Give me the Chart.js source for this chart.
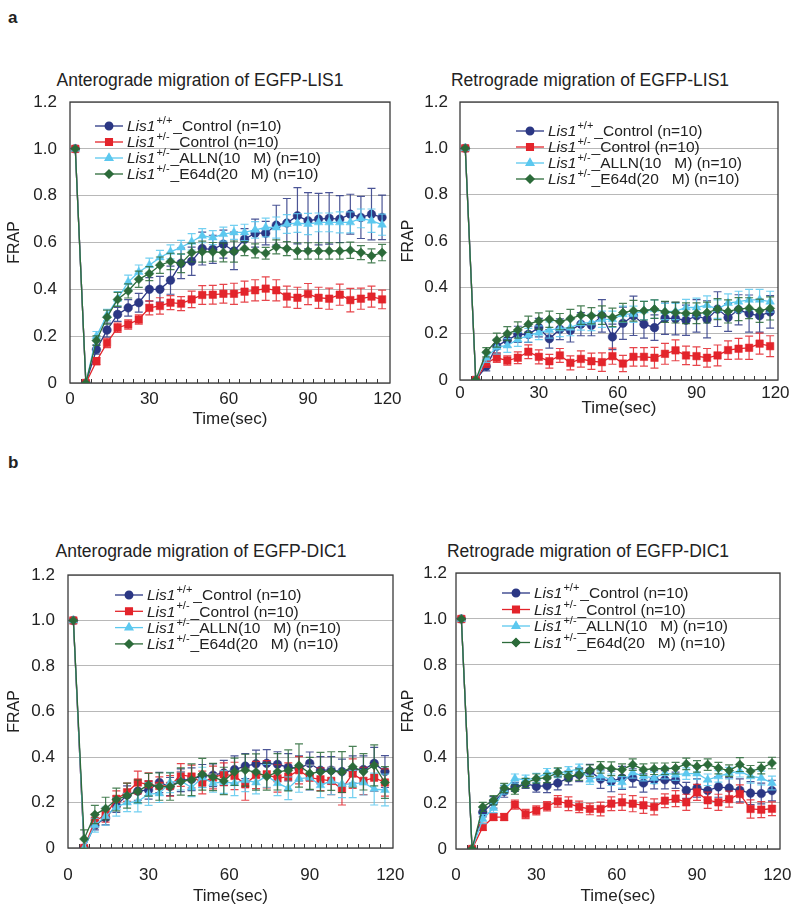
<!DOCTYPE html>
<html>
<head>
  <title>FRAP</title>
  <script src="https://cdn.jsdelivr.net/npm/chart.js@4.4.0/dist/chart.umd.min.js"></script>
  <style>
body {
  margin: 0;
  width: 793px;
  height: 921px;
  background: #fff;
  position: relative;
  font-family: "Liberation Sans", Arial, sans-serif;
}
canvas { position: absolute; }
.ttl {
  position: absolute;
  width: 400px;
  text-align: center;
  font-size: 17.5px;
  line-height: 20px;
  color: #222;
}
.lab {
  position: absolute;
  font-size: 17px;
  font-weight: bold;
  color: #222;
}
  </style>
</head>
<body>
  <div class="lab" style="left:8px;top:8px;">a</div>
  <div class="lab" style="left:8px;top:453px;">b</div>
  <div class="ttl" style="left:0px;top:70px;">Anterograde migration of EGFP-LIS1</div>
  <div class="ttl" style="left:390px;top:70px;">Retrograde migration of EGFP-LIS1</div>
  <div class="ttl" style="left:1px;top:541px;">Anterograde migration of EGFP-DIC1</div>
  <div class="ttl" style="left:388px;top:541px;">Retrograde migration of EGFP-DIC1</div>

  <canvas id="antLis" width="405" height="340" style="left:0px;top:90px;"></canvas>
  <canvas id="retLis" width="401" height="329" style="left:392px;top:90px;"></canvas>
  <canvas id="antDic" width="405" height="344" style="left:0px;top:563px;"></canvas>
  <canvas id="retDic" width="401" height="346" style="left:392px;top:561px;"></canvas>

  <script>
// time points (sec)
var times = [2,6,10,14,18,22,26,30,34,38,42,46,50,54,58,62,66,70,74,78,82,86,90,94,98,102,106,110,114,118];
var xTickLabels = [0,30,60,90,120];
var yTickLabels = [0,0.2,0.4,0.6,0.8,1.0,1.2];

// Anterograde EGFP-LIS1
var antLisWt   = [1.0,0,0.143,0.226,0.293,0.321,0.343,0.40,0.40,0.439,0.511,0.52,0.574,0.571,0.593,0.564,0.614,0.64,0.64,0.674,0.683,0.714,0.693,0.70,0.703,0.70,0.721,0.707,0.721,0.707];
var antLisCtl  = [1.0,0,0.093,0.171,0.236,0.25,0.271,0.321,0.329,0.343,0.339,0.357,0.376,0.377,0.381,0.381,0.39,0.396,0.403,0.396,0.369,0.364,0.38,0.364,0.36,0.377,0.354,0.36,0.369,0.357];
var antLisAlln = [1.0,0,0.2,0.29,0.36,0.431,0.474,0.503,0.536,0.56,0.579,0.603,0.629,0.621,0.636,0.643,0.643,0.654,0.664,0.664,0.679,0.683,0.679,0.686,0.686,0.686,0.686,0.703,0.693,0.676];
var antLisE64  = [1.0,0,0.181,0.281,0.357,0.393,0.443,0.467,0.503,0.519,0.511,0.557,0.561,0.56,0.557,0.561,0.574,0.564,0.554,0.581,0.574,0.564,0.564,0.564,0.564,0.564,0.567,0.557,0.543,0.557];
var antLisWtErr   = [0,0,0.02,0.03,0.03,0.035,0.04,0.05,0.055,0.06,0.065,0.06,0.07,0.06,0.06,0.08,0.045,0.06,0.05,0.085,0.105,0.12,0.12,0.11,0.11,0.1,0.085,0.09,0.11,0.095];
var antLisCtlErr  = [0,0,0.015,0.02,0.02,0.02,0.02,0.03,0.035,0.03,0.03,0.035,0.04,0.04,0.04,0.045,0.045,0.045,0.05,0.045,0.045,0.045,0.045,0.045,0.045,0.045,0.05,0.045,0.045,0.04];
var antLisAllnErr = [0,0,0.02,0.025,0.03,0.03,0.03,0.03,0.03,0.03,0.03,0.035,0.03,0.03,0.03,0.03,0.035,0.035,0.04,0.045,0.04,0.04,0.045,0.04,0.04,0.045,0.045,0.04,0.05,0.045];
var antLisE64Err  = [0,0,0.02,0.03,0.03,0.03,0.035,0.03,0.035,0.035,0.04,0.04,0.045,0.04,0.04,0.045,0.03,0.03,0.025,0.03,0.03,0.035,0.035,0.035,0.035,0.035,0.035,0.03,0.03,0.035];

// Retrograde EGFP-LIS1
var retLisWt   = [1.0,0,0.059,0.146,0.172,0.197,0.197,0.226,0.178,0.219,0.214,0.241,0.236,0.277,0.186,0.245,0.277,0.241,0.226,0.267,0.265,0.258,0.277,0.262,0.306,0.27,0.303,0.287,0.277,0.294];
var retLisCtl  = [1.0,0,0.074,0.096,0.084,0.096,0.122,0.10,0.081,0.106,0.074,0.091,0.081,0.077,0.103,0.071,0.10,0.10,0.096,0.113,0.128,0.106,0.103,0.096,0.106,0.129,0.135,0.139,0.157,0.146];
var retLisAlln = [1.0,0,0.096,0.142,0.149,0.175,0.193,0.204,0.216,0.222,0.226,0.245,0.248,0.262,0.262,0.284,0.284,0.30,0.306,0.296,0.296,0.313,0.313,0.323,0.306,0.332,0.338,0.346,0.346,0.338];
var retLisE64  = [1.0,0,0.12,0.172,0.2,0.216,0.241,0.255,0.262,0.252,0.265,0.28,0.277,0.28,0.27,0.291,0.299,0.299,0.306,0.294,0.291,0.288,0.288,0.291,0.306,0.296,0.306,0.31,0.299,0.309];
var retLisWtErr   = [0,0,0.02,0.03,0.03,0.035,0.035,0.04,0.04,0.045,0.05,0.05,0.045,0.07,0.055,0.07,0.085,0.06,0.055,0.07,0.07,0.065,0.07,0.08,0.075,0.06,0.065,0.08,0.07,0.07];
var retLisCtlErr  = [0,0,0.02,0.02,0.02,0.025,0.03,0.03,0.03,0.03,0.03,0.035,0.035,0.04,0.035,0.035,0.04,0.04,0.045,0.045,0.045,0.04,0.04,0.04,0.045,0.04,0.045,0.05,0.045,0.045];
var retLisAllnErr = [0,0,0.02,0.03,0.03,0.03,0.03,0.03,0.035,0.035,0.035,0.03,0.035,0.035,0.035,0.035,0.035,0.04,0.04,0.035,0.035,0.035,0.04,0.04,0.04,0.04,0.045,0.045,0.045,0.045];
var retLisE64Err  = [0,0,0.02,0.03,0.03,0.035,0.035,0.035,0.035,0.035,0.04,0.04,0.035,0.04,0.04,0.04,0.045,0.04,0.04,0.045,0.045,0.045,0.045,0.045,0.045,0.05,0.05,0.045,0.05,0.05];

// Anterograde EGFP-DIC1
var antDicWt   = [1.0,0,0.10,0.132,0.187,0.233,0.25,0.255,0.288,0.27,0.298,0.302,0.317,0.32,0.33,0.345,0.36,0.37,0.372,0.368,0.355,0.35,0.372,0.342,0.342,0.336,0.345,0.345,0.372,0.336];
var antDicCtl  = [1.0,0,0.12,0.144,0.216,0.245,0.288,0.28,0.273,0.273,0.321,0.314,0.288,0.31,0.324,0.317,0.28,0.321,0.324,0.306,0.314,0.342,0.309,0.302,0.295,0.259,0.327,0.295,0.309,0.288];
var antDicAlln = [1.0,0,0.10,0.14,0.18,0.20,0.204,0.237,0.24,0.288,0.295,0.266,0.31,0.285,0.29,0.285,0.298,0.288,0.317,0.285,0.263,0.305,0.309,0.276,0.295,0.281,0.281,0.288,0.259,0.255];
var antDicE64  = [1.0,0.04,0.147,0.173,0.213,0.23,0.249,0.278,0.27,0.27,0.292,0.30,0.324,0.312,0.295,0.335,0.342,0.334,0.314,0.335,0.341,0.363,0.328,0.335,0.338,0.334,0.357,0.335,0.363,0.288];
var antDicWtErr   = [0,0,0.02,0.03,0.03,0.04,0.04,0.04,0.045,0.04,0.05,0.05,0.05,0.05,0.055,0.06,0.055,0.06,0.06,0.055,0.06,0.055,0.05,0.06,0.06,0.055,0.06,0.06,0.07,0.07];
var antDicCtlErr  = [0,0,0.03,0.03,0.035,0.04,0.05,0.05,0.04,0.045,0.05,0.05,0.05,0.05,0.05,0.06,0.07,0.06,0.06,0.06,0.06,0.06,0.055,0.05,0.06,0.07,0.065,0.06,0.06,0.06];
var antDicAllnErr = [0,0,0.03,0.04,0.04,0.04,0.045,0.05,0.04,0.045,0.04,0.04,0.045,0.04,0.05,0.055,0.05,0.05,0.05,0.055,0.05,0.06,0.055,0.055,0.06,0.06,0.06,0.055,0.07,0.07];
var antDicE64Err  = [0,0.04,0.04,0.05,0.05,0.055,0.05,0.05,0.06,0.06,0.06,0.07,0.07,0.06,0.06,0.06,0.07,0.08,0.06,0.08,0.09,0.095,0.07,0.085,0.085,0.09,0.09,0.08,0.09,0.07];

// Retrograde EGFP-DIC1
var retDicWt   = [1.0,0,0.16,0.203,0.25,0.27,0.284,0.272,0.275,0.287,0.309,0.323,0.338,0.304,0.294,0.309,0.309,0.287,0.301,0.301,0.299,0.255,0.265,0.254,0.27,0.265,0.255,0.243,0.241,0.254];
var retDicCtl  = [1.0,0,0.096,0.139,0.139,0.193,0.152,0.168,0.186,0.207,0.197,0.183,0.174,0.174,0.197,0.203,0.197,0.19,0.183,0.21,0.219,0.203,0.246,0.212,0.203,0.217,0.239,0.174,0.171,0.175];
var retDicAlln = [1.0,0,0.13,0.178,0.258,0.306,0.301,0.309,0.33,0.33,0.338,0.349,0.301,0.319,0.301,0.29,0.333,0.316,0.309,0.33,0.323,0.328,0.328,0.301,0.316,0.33,0.338,0.316,0.309,0.287];
var retDicE64  = [1.0,0,0.183,0.212,0.265,0.258,0.287,0.306,0.309,0.333,0.316,0.323,0.341,0.355,0.349,0.345,0.367,0.345,0.349,0.349,0.352,0.37,0.359,0.367,0.352,0.341,0.367,0.338,0.352,0.374];
var retDicWtErr   = [0,0,0.02,0.025,0.025,0.02,0.02,0.025,0.03,0.03,0.03,0.03,0.03,0.04,0.045,0.05,0.04,0.04,0.04,0.04,0.035,0.035,0.04,0.04,0.045,0.045,0.05,0.05,0.045,0.045];
var retDicCtlErr  = [0,0,0.015,0.015,0.015,0.02,0.02,0.02,0.02,0.025,0.03,0.025,0.025,0.03,0.03,0.035,0.035,0.035,0.035,0.03,0.035,0.035,0.035,0.035,0.035,0.035,0.04,0.04,0.035,0.03];
var retDicAllnErr = [0,0,0.02,0.02,0.02,0.02,0.02,0.02,0.02,0.02,0.02,0.02,0.02,0.02,0.025,0.025,0.025,0.02,0.025,0.025,0.025,0.025,0.025,0.025,0.025,0.025,0.025,0.03,0.03,0.03];
var retDicE64Err  = [0,0,0.02,0.02,0.02,0.02,0.02,0.02,0.02,0.02,0.02,0.025,0.025,0.025,0.03,0.025,0.025,0.025,0.025,0.025,0.025,0.025,0.025,0.025,0.025,0.025,0.03,0.025,0.025,0.025];

var seriesLabels = [
  {gt: '+/+', rest: '_Control (n=10)'},
  {gt: '+/-', rest: '_Control (n=10)'},
  {gt: '+/-', rest: '_ALLN(10   M) (n=10)'},
  {gt: '+/-', rest: '_E64d(20   M) (n=10)'}
];
var seriesColors = ['#2b3784', '#e3242b', '#5cc8ef', '#2c6b3a'];
var seriesStyles = ['circle', 'rect', 'triangle', 'rectRot'];
var seriesRadius = [4.3, 5.3, 5, 4.6];

var FONT = '"Liberation Sans", Arial, sans-serif';
var TXT = '#222';

// error bars under each dataset
var errorBars = {
  id: 'errorBars',
  beforeDatasetDraw: function(chart, args) {
    var ds = chart.data.datasets[args.index];
    var meta = args.meta;
    var y = chart.scales.y;
    var ctx = chart.ctx;
    ctx.save();
    ctx.strokeStyle = ds.borderColor;
    ctx.globalAlpha = 0.85;
    ctx.lineWidth = 1.2;
    meta.data.forEach(function(pt, k) {
      var e = ds.errs[k];
      if (!e) return;
      var v = ds.data[k].y;
      var top = y.getPixelForValue(v + e);
      var bot = y.getPixelForValue(v - e);
      ctx.beginPath();
      ctx.moveTo(pt.x, top); ctx.lineTo(pt.x, bot);
      ctx.moveTo(pt.x - 4, top); ctx.lineTo(pt.x + 4, top);
      ctx.moveTo(pt.x - 4, bot); ctx.lineTo(pt.x + 4, bot);
      ctx.stroke();
    });
    ctx.restore();
  }
};

// plot box + small category ticks on the bottom edge
var frame = {
  id: 'frame',
  beforeDatasetsDraw: function(chart) {
    var a = chart.chartArea, ctx = chart.ctx, x = chart.scales.x;
    ctx.save();
    ctx.strokeStyle = '#3a3a3a';
    ctx.lineWidth = 1.3;
    ctx.strokeRect(a.left, a.top, a.right - a.left, a.bottom - a.top);
    ctx.lineWidth = 1;
    ctx.beginPath();
    for (var k = 0; k < times.length - 1; k++) {
      var px = Math.round(x.getPixelForValue((times[k] + times[k + 1]) / 2)) + 0.5;
      ctx.moveTo(px, a.bottom); ctx.lineTo(px, a.bottom - 4);
    }
    ctx.stroke();
    ctx.restore();
  }
};

// legend with italic gene name and superscript genotype
var frapLegend = {
  id: 'frapLegend',
  afterDraw: function(chart, args, opts) {
    var ctx = chart.ctx;
    ctx.save();
    chart.data.datasets.forEach(function(ds, i) {
      var yy = opts.y + i * opts.dy;
      ctx.strokeStyle = ds.borderColor;
      ctx.fillStyle = ds.borderColor;
      ctx.lineWidth = 1.3;
      ctx.beginPath();
      ctx.moveTo(opts.x, yy); ctx.lineTo(opts.x + 28, yy);
      ctx.stroke();
      Chart.helpers.drawPoint(ctx, {pointStyle: ds.pointStyle, radius: ds.pointRadius - 0.5, borderWidth: 1}, opts.x + 14, yy);
      ctx.fill();
      var lbl = seriesLabels[i];
      var tx = opts.x + 32;
      ctx.fillStyle = TXT;
      ctx.textBaseline = 'middle';
      ctx.font = 'italic 15.5px ' + FONT;
      ctx.fillText('Lis1', tx, yy + 1);
      tx += ctx.measureText('Lis1').width + 1;
      ctx.font = '11px ' + FONT;
      ctx.fillText(lbl.gt, tx, yy - 5);
      tx += ctx.measureText(lbl.gt).width + 1;
      ctx.font = '15.5px ' + FONT;
      ctx.fillText(lbl.rest, tx, yy + 1);
    });
    ctx.restore();
  }
};

function makeChart(id, vals, errs, g) {
  var datasets = vals.map(function(v, i) {
    return {
      label: seriesLabels[i].rest,
      data: times.map(function(t, k) { return {x: t, y: v[k]}; }),
      errs: errs[i],
      borderColor: seriesColors[i],
      backgroundColor: seriesColors[i],
      pointBackgroundColor: seriesColors[i],
      pointBorderColor: seriesColors[i],
      pointStyle: seriesStyles[i],
      pointRadius: seriesRadius[i],
      pointBorderWidth: 0.5,
      borderWidth: 1.3,
      tension: 0,
      order: 3 - i
    };
  });
  return new Chart(document.getElementById(id), {
    type: 'line',
    data: { datasets: datasets },
    options: {
      responsive: false,
      animation: false,
      layout: { padding: { top: g.pt, right: g.pr, left: 0, bottom: 0 } },
      plugins: {
        legend: { display: false },
        tooltip: { enabled: false },
        frapLegend: { x: g.lx, y: g.ly, dy: g.ldy }
      },
      scales: {
        x: {
          type: 'linear', min: 0, max: 121,
          afterBuildTicks: function(s) { s.ticks = xTickLabels.map(function(v) { return {value: v}; }); },
          afterFit: function(s) { s.height = g.xh; s.paddingLeft = 0; s.paddingRight = 0; },
          ticks: { font: { family: FONT, size: 17 }, color: TXT, padding: g.xp, maxRotation: 0, autoSkip: false },
          grid: { display: false, drawTicks: false },
          border: { display: false },
          title: { display: true, text: 'Time(sec)', font: { family: FONT, size: 17, weight: 'normal' }, color: TXT, padding: 0 }
        },
        y: {
          min: 0, max: 1.2,
          afterBuildTicks: function(s) { s.ticks = yTickLabels.map(function(v) { return {value: v}; }); },
          afterFit: function(s) { s.width = g.yw; s.paddingTop = 0; s.paddingBottom = 0; },
          ticks: {
            font: { family: FONT, size: 17 }, color: TXT, padding: g.yp,
            callback: function(v) { return v === 0 ? '0' : v.toFixed(1); }
          },
          grid: { color: '#b8b8b8', lineWidth: 1, drawTicks: false },
          border: { display: false },
          title: { display: true, text: 'FRAP', font: { family: FONT, size: 16, weight: 'normal' }, color: TXT, padding: { top: g.tp, bottom: 0 } }
        }
      }
    },
    plugins: [frame, errorBars, frapLegend]
  });
}

makeChart('antLis',
  [antLisWt, antLisCtl, antLisAlln, antLisE64],
  [antLisWtErr, antLisCtlErr, antLisAllnErr, antLisE64Err],
  {pt: 12, pr: 15, yw: 70, xh: 47, xp: 6, yp: 13, tp: 5, lx: 95, ly: 36, ldy: 16});

makeChart('retLis',
  [retLisWt, retLisCtl, retLisAlln, retLisE64],
  [retLisWtErr, retLisCtlErr, retLisAllnErr, retLisE64Err],
  {pt: 12, pr: 15, yw: 68, xh: 39, xp: 3, yp: 12, tp: 7, lx: 124, ly: 41, ldy: 16});

makeChart('antDic',
  [antDicWt, antDicCtl, antDicAlln, antDicE64],
  [antDicWtErr, antDicCtlErr, antDicAllnErr, antDicE64Err],
  {pt: 12, pr: 12, yw: 68, xh: 59, xp: 17, yp: 13, tp: 5, lx: 115, ly: 32, ldy: 16.3});

makeChart('retDic',
  [retDicWt, retDicCtl, retDicAlln, retDicE64],
  [retDicWtErr, retDicCtlErr, retDicAllnErr, retDicE64Err],
  {pt: 12, pr: 13, yw: 64, xh: 58, xp: 16, yp: 9, tp: 7, lx: 110, ly: 32, ldy: 16.5});
  </script>
</body>
</html>
